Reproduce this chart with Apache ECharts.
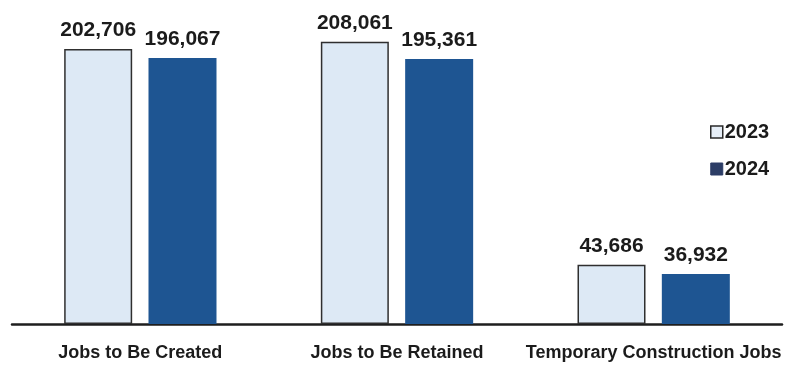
<!DOCTYPE html>
<html>
<head>
<meta charset="utf-8">
<script src="https://cdn.jsdelivr.net/npm/echarts@6/dist/echarts.min.js"></script>
<style>
  html, body { margin: 0; padding: 0; background: #ffffff; }
  #chart { width: 791px; height: 366px; }
</style>
</head>
<body>
<div id="chart"></div>
<script>
// Job counts by category, 2023 vs 2024
const categories = ['Jobs to Be Created', 'Jobs to Be Retained', 'Temporary Construction Jobs'];
const jobs2023 = [202706, 208061, 43686];
const jobs2024 = [196067, 195361, 36932];
const seriesNames = ['2023', '2024'];

const FONT = '"Liberation Sans", Arial, sans-serif';
const TEXT = '#1b1b1b';

const chart = echarts.init(document.getElementById('chart'), null, { renderer: 'canvas' });

const valueLabel = {
  show: true,
  position: 'top',
  distance: 8,
  color: TEXT,
  fontFamily: FONT,
  fontWeight: 'bold',
  fontSize: 21,
  formatter: p => p.value.toLocaleString('en-US')
};

chart.setOption({
  animation: false,
  backgroundColor: '#ffffff',
  grid: { left: 12, right: 9, top: 12, bottom: 42 },
  legend: {
    orient: 'vertical',
    left: 705,
    top: 117,
    icon: 'rect',
    itemWidth: 12,
    itemHeight: 12,
    itemGap: 17,
    textStyle: { color: TEXT, fontFamily: FONT, fontWeight: 'bold', fontSize: 20, padding: [0, 0, 0, -3] },
    data: [
      { name: seriesNames[0], itemStyle: { color: '#e6eef7', borderColor: '#2a2a2a', borderWidth: 1.5 } },
      { name: seriesNames[1], itemStyle: { color: '#2c3d66', borderColor: '#2c3d66', borderWidth: 1 } }
    ]
  },
  xAxis: {
    type: 'category',
    data: categories,
    axisLine: { show: true, lineStyle: { color: '#1e1e1e', width: 2.5 } },
    axisTick: { show: false },
    axisLabel: {
      interval: 0,
      color: TEXT,
      fontFamily: FONT,
      fontWeight: 'bold',
      fontSize: 18,
      margin: 20
    }
  },
  yAxis: {
    type: 'value',
    min: 0,
    max: 230000,
    show: false,
    splitLine: { show: false }
  },
  series: [
    {
      name: seriesNames[0],
      type: 'bar',
      data: jobs2023,
      barWidth: 68,
      barGap: '24%',
      itemStyle: { color: '#dde9f5', borderColor: '#2f2f2f', borderWidth: 1.5 },
      label: valueLabel
    },
    {
      name: seriesNames[1],
      type: 'bar',
      data: jobs2024,
      barWidth: 68,
      itemStyle: { color: '#1e5592' },
      label: valueLabel
    }
  ]
});
</script>
</body>
</html>
